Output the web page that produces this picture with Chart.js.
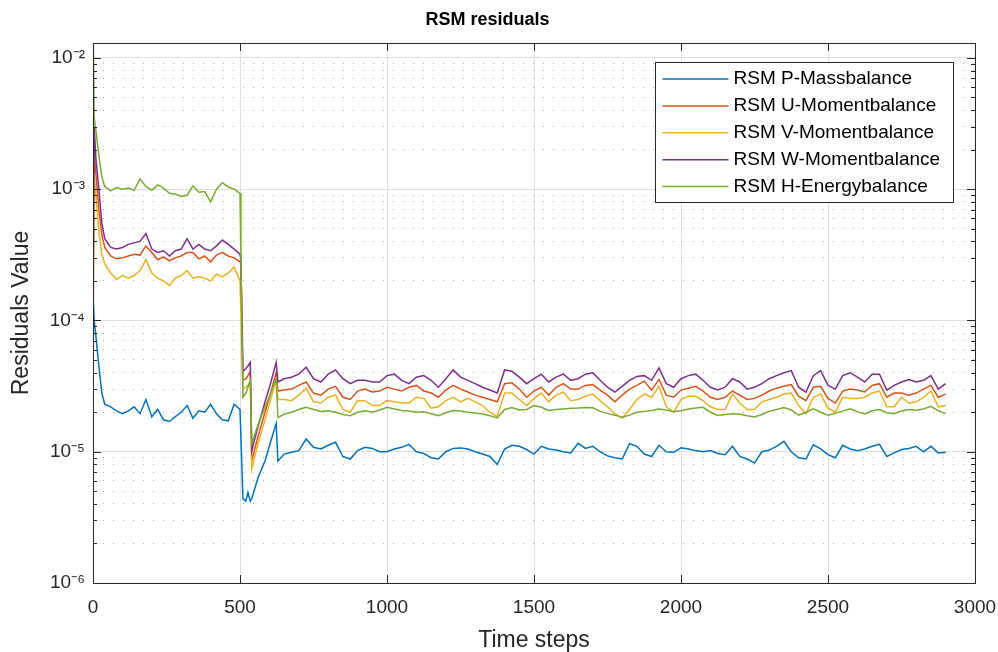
<!DOCTYPE html>
<html>
<head>
<meta charset="utf-8">
<title>RSM residuals</title>
<script src="https://cdn.jsdelivr.net/npm/chart.js@4.4.1/dist/chart.umd.min.js"></script>
<style>
  html, body { margin: 0; padding: 0; background: #fff; }
  #wrap { width: 998px; height: 652px; }
</style>
</head>
<body>
<div id="wrap"><canvas id="residualsChart"></canvas></div>
<script>
// Time steps where the residuals were sampled
const steps = [
  1, 4, 10, 20, 30,
  40, 60, 80, 100, 120, 140, 160, 180, 200, 220, 240, 260, 280, 300, 320, 340, 360, 380, 400, 420, 440, 460, 480, 500,
  503, 510, 520, 527, 535, 540, 561, 585, 602, 623, 629,
  650, 675, 700, 725, 750, 775, 800, 825, 850, 875,
  900, 925, 950, 975, 1000, 1025, 1050, 1075, 1100, 1125,
  1150, 1175, 1200, 1225, 1250, 1275, 1300, 1325, 1350, 1375,
  1400, 1425, 1450, 1475, 1500, 1525, 1550, 1575, 1600, 1625,
  1650, 1675, 1700, 1725, 1750, 1775, 1800, 1825, 1850, 1875,
  1900, 1925, 1950, 1975, 2000, 2025, 2050, 2075, 2100, 2125,
  2150, 2175, 2200, 2225, 2250, 2275, 2300, 2325, 2350, 2375,
  2400, 2425, 2450, 2475, 2500, 2525, 2550, 2575, 2600, 2625,
  2650, 2675, 2700, 2725, 2750, 2775, 2800, 2825, 2850, 2875,
  2900
];

// P-Massbalance
const pMass = [
  1.4e-4, 1.0e-4, 7.5e-5, 4.5e-5, 2.8e-5,
  2.3e-5, 2.2e-5, 2.05e-5, 1.95e-5, 2.05e-5, 2.2e-5, 1.95e-5, 2.5e-5, 1.85e-5, 2.1e-5, 1.75e-5, 1.7e-5,
  1.85e-5, 2.0e-5, 2.25e-5, 1.8e-5, 2.05e-5, 2.0e-5, 2.3e-5, 1.95e-5, 1.75e-5, 1.72e-5, 2.3e-5, 2.1e-5,
  2.1e-5, 4.4e-6, 4.2e-6, 4.9e-6, 4.2e-6, 4.4e-6, 6.3e-6, 8.5e-6, 1.15e-5, 1.64e-5, 8.5e-6,
  0.96e-5, 0.99e-5, 1.02e-5, 1.25e-5, 1.08e-5, 1.05e-5, 1.12e-5, 1.18e-5, 0.92e-5, 0.88e-5,
  1.02e-5, 1.08e-5, 1.06e-5, 1.0e-5, 1.0e-5, 1.05e-5, 1.08e-5, 1.14e-5, 1.0e-5, 0.97e-5,
  0.9e-5, 0.88e-5, 1.0e-5, 1.06e-5, 1.07e-5, 1.05e-5, 1.0e-5, 0.96e-5, 0.92e-5, 0.8e-5,
  1.05e-5, 1.12e-5, 1.1e-5, 1.04e-5, 0.96e-5, 1.1e-5, 1.05e-5, 1.03e-5, 1.0e-5, 0.98e-5,
  1.16e-5, 1.06e-5, 1.1e-5, 1.0e-5, 0.93e-5, 0.9e-5, 0.88e-5, 1.15e-5, 1.1e-5, 0.96e-5,
  0.92e-5, 1.12e-5, 1.0e-5, 0.99e-5, 1.07e-5, 1.05e-5, 1.02e-5, 1.0e-5, 1.02e-5, 0.97e-5,
  0.95e-5, 1.1e-5, 0.92e-5, 0.88e-5, 0.82e-5, 1.0e-5, 1.03e-5, 1.1e-5, 1.2e-5, 1.0e-5,
  0.9e-5, 0.88e-5, 1.13e-5, 1.05e-5, 0.95e-5, 0.9e-5, 1.12e-5, 1.05e-5, 1.02e-5, 1.05e-5,
  1.1e-5, 1.14e-5, 0.92e-5, 0.98e-5, 1.04e-5, 1.06e-5, 1.1e-5, 1.0e-5, 1.1e-5, 0.98e-5,
  0.99e-5
];

// U-Momentbalance
const uMoment = [
  1.3e-4, 1.9e-3, 1.3e-3, 7.0e-4, 4.5e-4,
  3.6e-4, 3.1e-4, 2.95e-4, 3.0e-4, 3.1e-4, 3.2e-4, 3.15e-4, 3.7e-4, 3.3e-4, 2.9e-4, 3.05e-4, 2.85e-4,
  3.0e-4, 3.1e-4, 3.3e-4, 3.3e-4, 2.95e-4, 3.1e-4, 2.8e-4, 3.15e-4, 3.3e-4, 3.1e-4, 3.0e-4, 2.8e-4,
  2.7e-4, 3.5e-5, 3.6e-5, 3.8e-5, 4.1e-5, 8.6e-6, 1.3e-5, 2.0e-5, 2.7e-5, 4.0e-5, 2.9e-5,
  2.95e-5, 3.0e-5, 3.2e-5, 3.4e-5, 2.8e-5, 2.7e-5, 3.0e-5, 3.15e-5, 2.6e-5, 2.5e-5,
  2.9e-5, 3.0e-5, 2.85e-5, 2.9e-5, 3.1e-5, 3.0e-5, 2.9e-5, 3.1e-5, 3.2e-5, 2.9e-5,
  2.8e-5, 2.6e-5, 2.95e-5, 3.2e-5, 3.0e-5, 2.85e-5, 2.7e-5, 2.6e-5, 2.5e-5, 2.4e-5,
  3.3e-5, 3.35e-5, 3.0e-5, 2.6e-5, 2.9e-5, 3.1e-5, 2.7e-5, 3.1e-5, 3.3e-5, 3.0e-5,
  3.0e-5, 3.2e-5, 3.25e-5, 2.95e-5, 2.7e-5, 2.4e-5, 2.7e-5, 3.0e-5, 3.2e-5, 3.45e-5,
  2.95e-5, 3.55e-5, 2.7e-5, 2.6e-5, 2.95e-5, 3.05e-5, 3.15e-5, 2.9e-5, 2.6e-5, 2.5e-5,
  2.6e-5, 2.9e-5, 2.7e-5, 2.5e-5, 2.55e-5, 2.7e-5, 2.9e-5, 3.05e-5, 3.15e-5, 3.25e-5,
  2.65e-5, 2.45e-5, 3.1e-5, 3.15e-5, 2.55e-5, 2.35e-5, 2.9e-5, 3.0e-5, 2.95e-5, 2.85e-5,
  3.2e-5, 3.3e-5, 2.6e-5, 2.8e-5, 2.8e-5, 2.7e-5, 2.8e-5, 3.0e-5, 3.2e-5, 2.6e-5,
  2.75e-5
];

// V-Momentbalance
const vMoment = [
  2.0e-4, 1.3e-3, 9.0e-4, 4.8e-4, 3.2e-4,
  2.7e-4, 2.3e-4, 2.05e-4, 2.2e-4, 2.1e-4, 2.2e-4, 2.4e-4, 2.9e-4, 2.3e-4, 2.1e-4, 2.0e-4, 1.85e-4,
  2.1e-4, 2.2e-4, 2.4e-4, 2.1e-4, 2.15e-4, 2.1e-4, 2.0e-4, 2.25e-4, 2.15e-4, 2.3e-4, 2.55e-4, 2.0e-4,
  2.0e-4, 3.0e-5, 3.1e-5, 3.2e-5, 3.4e-5, 7.4e-6, 1.15e-5, 1.75e-5, 2.4e-5, 3.5e-5, 2.5e-5,
  2.5e-5, 2.45e-5, 2.7e-5, 3.05e-5, 2.4e-5, 2.35e-5, 2.6e-5, 2.7e-5, 2.1e-5, 2.0e-5,
  2.45e-5, 2.45e-5, 2.25e-5, 2.25e-5, 2.45e-5, 2.4e-5, 2.35e-5, 2.35e-5, 2.6e-5, 2.55e-5,
  2.15e-5, 2.2e-5, 2.45e-5, 2.6e-5, 2.4e-5, 2.55e-5, 2.4e-5, 2.25e-5, 2.0e-5, 1.85e-5,
  2.8e-5, 2.8e-5, 2.5e-5, 2.25e-5, 2.55e-5, 2.8e-5, 2.4e-5, 2.7e-5, 2.85e-5, 2.45e-5,
  2.5e-5, 2.65e-5, 2.75e-5, 2.45e-5, 2.2e-5, 1.95e-5, 1.8e-5, 2.1e-5, 2.5e-5, 2.75e-5,
  2.6e-5, 3.15e-5, 2.2e-5, 2.0e-5, 2.5e-5, 2.65e-5, 2.65e-5, 2.45e-5, 2.2e-5, 2.1e-5,
  2.1e-5, 2.75e-5, 2.35e-5, 2.1e-5, 2.1e-5, 2.4e-5, 2.5e-5, 2.6e-5, 2.75e-5, 2.8e-5,
  2.25e-5, 1.95e-5, 2.6e-5, 2.75e-5, 2.15e-5, 2.0e-5, 2.6e-5, 2.55e-5, 2.55e-5, 2.6e-5,
  2.8e-5, 2.9e-5, 2.2e-5, 2.2e-5, 2.6e-5, 2.35e-5, 2.4e-5, 2.6e-5, 2.9e-5, 2.2e-5,
  2.25e-5
];

// W-Momentbalance
const wMoment = [
  3.0e-4, 3.0e-3, 1.7e-3, 1.0e-3, 5.5e-4,
  4.2e-4, 3.6e-4, 3.5e-4, 3.6e-4, 3.8e-4, 3.9e-4, 4.0e-4, 4.6e-4, 3.5e-4, 3.3e-4, 3.4e-4, 3.1e-4,
  3.4e-4, 3.5e-4, 4.2e-4, 3.5e-4, 3.8e-4, 3.5e-4, 3.4e-4, 3.7e-4, 4.1e-4, 3.8e-4, 3.5e-4, 3.2e-4,
  2.9e-4, 4.1e-5, 4.3e-5, 4.5e-5, 4.8e-5, 1.02e-5, 1.55e-5, 2.4e-5, 3.2e-5, 4.8e-5, 3.4e-5,
  3.6e-5, 3.7e-5, 3.9e-5, 4.4e-5, 3.6e-5, 3.4e-5, 3.9e-5, 4.2e-5, 3.6e-5, 3.3e-5,
  3.5e-5, 3.5e-5, 3.4e-5, 3.4e-5, 3.8e-5, 3.9e-5, 3.5e-5, 3.3e-5, 3.7e-5, 3.8e-5,
  3.5e-5, 3.1e-5, 3.6e-5, 4.2e-5, 3.7e-5, 3.5e-5, 3.3e-5, 3.1e-5, 2.95e-5, 2.8e-5,
  4.2e-5, 4.1e-5, 3.7e-5, 3.3e-5, 3.6e-5, 3.9e-5, 3.4e-5, 3.7e-5, 3.9e-5, 3.5e-5,
  3.6e-5, 3.9e-5, 4.0e-5, 3.5e-5, 3.1e-5, 2.85e-5, 3.15e-5, 3.5e-5, 3.75e-5, 3.8e-5,
  3.5e-5, 4.35e-5, 3.3e-5, 3.1e-5, 3.6e-5, 3.8e-5, 3.9e-5, 3.5e-5, 3.1e-5, 2.95e-5,
  3.1e-5, 3.6e-5, 3.4e-5, 3.0e-5, 3.1e-5, 3.3e-5, 3.6e-5, 3.8e-5, 4.0e-5, 4.15e-5,
  3.1e-5, 2.85e-5, 3.8e-5, 4.15e-5, 3.2e-5, 3.0e-5, 3.8e-5, 4.0e-5, 3.7e-5, 3.4e-5,
  3.9e-5, 3.9e-5, 2.95e-5, 3.2e-5, 3.4e-5, 3.55e-5, 3.4e-5, 3.5e-5, 3.8e-5, 3.0e-5,
  3.3e-5
];

// H-Energybalance
const hEnergy = [
  1.3e-2, 3.5e-3, 2.8e-3, 1.8e-3, 1.25e-3,
  1.05e-3, 0.97e-3, 1.03e-3, 1.0e-3, 1.02e-3, 0.98e-3, 1.2e-3, 1.05e-3, 0.98e-3, 1.08e-3, 1.02e-3, 0.93e-3,
  0.92e-3, 0.88e-3, 0.9e-3, 1.06e-3, 0.95e-3, 0.96e-3, 0.8e-3, 1.0e-3, 1.12e-3, 1.04e-3, 1.0e-3, 0.93e-3,
  3.0e-4, 2.6e-5, 2.8e-5, 3.1e-5, 3.5e-5, 1.15e-5, 1.6e-5, 2.2e-5, 2.7e-5, 3.6e-5, 1.82e-5,
  1.93e-5, 2.0e-5, 2.1e-5, 2.18e-5, 2.1e-5, 2.03e-5, 2.05e-5, 2.0e-5, 1.92e-5, 1.88e-5,
  2.0e-5, 2.05e-5, 2.0e-5, 2.08e-5, 2.18e-5, 2.12e-5, 2.06e-5, 2.04e-5, 2.0e-5, 2.02e-5,
  1.95e-5, 1.88e-5, 1.98e-5, 2.06e-5, 2.04e-5, 2.0e-5, 1.97e-5, 1.94e-5, 1.88e-5, 1.81e-5,
  2.1e-5, 2.17e-5, 2.08e-5, 2.1e-5, 2.25e-5, 2.18e-5, 2.06e-5, 2.1e-5, 2.12e-5, 2.14e-5,
  2.15e-5, 2.17e-5, 2.16e-5, 2.03e-5, 1.96e-5, 1.9e-5, 1.83e-5, 1.9e-5, 2.0e-5, 2.03e-5,
  2.06e-5, 2.12e-5, 2.08e-5, 2.02e-5, 2.05e-5, 2.12e-5, 2.15e-5, 2.18e-5, 2.0e-5, 1.89e-5,
  1.92e-5, 1.95e-5, 1.93e-5, 1.88e-5, 1.84e-5, 1.92e-5, 2.03e-5, 2.1e-5, 2.17e-5, 2.08e-5,
  1.9e-5, 2.0e-5, 2.12e-5, 2.0e-5, 1.9e-5, 1.96e-5, 2.04e-5, 2.12e-5, 2.02e-5, 1.94e-5,
  2.05e-5, 2.1e-5, 1.98e-5, 1.95e-5, 2.04e-5, 2.1e-5, 2.07e-5, 2.12e-5, 2.22e-5, 2.05e-5,
  1.95e-5
];

const seriesNames = ['RSM P-Massbalance', 'RSM U-Momentbalance', 'RSM V-Momentbalance', 'RSM W-Momentbalance', 'RSM H-Energybalance'];
const seriesColors = ['#0072BD', '#D95319', '#EDB120', '#7E2F8E', '#77AC30'];
const seriesValues = [pMass, uMoment, vMoment, wMoment, hEnergy];

const xTickValues = [0, 500, 1000, 1500, 2000, 2500, 3000];
const xTickLabels = ['0', '500', '1000', '1500', '2000', '2500', '3000'];
const yTickValues = [1e-6, 1e-5, 1e-4, 1e-3, 1e-2];
const yTickLabels = ['10⁻⁶', '10⁻⁵', '10⁻⁴', '10⁻³', '10⁻²'];

const FONT = "'Liberation Sans', Arial, Helvetica, sans-serif";
const AXIS_COLOR = '#262626';

// 1..9 per decade, the decade ones are the major ticks
function logGridTicks() {
    const ticks = [];
    for (let k = -6; k <= -3; k++) {
        for (let m = 1; m <= 9; m++) {
            ticks.push({ value: Number(m + 'e' + k), major: m === 1 });
        }
    }
    ticks.push({ value: 1e-2, major: true });
    return ticks;
}

function yLabel(value) {
    const i = yTickValues.findIndex(v => Math.abs(v - value) < v * 1e-6);
    return i >= 0 ? yTickLabels[i] : '';
}

// box round the axes with the inward tick marks
const axesBox = {
    id: 'axesBox',
    afterDatasetsDraw(chart) {
        const { ctx, chartArea: a, scales } = chart;
        ctx.save();
        ctx.strokeStyle = AXIS_COLOR;
        ctx.lineWidth = 1;
        ctx.beginPath();
        scales.y.ticks.forEach(t => {
            const py = Math.round(scales.y.getPixelForValue(t.value)) + 0.5;
            const len = t.major ? 8 : 4;
            ctx.moveTo(a.left, py); ctx.lineTo(a.left + len, py);
            ctx.moveTo(a.right, py); ctx.lineTo(a.right - len, py);
        });
        scales.x.ticks.forEach(t => {
            const px = Math.round(scales.x.getPixelForValue(t.value)) + 0.5;
            ctx.moveTo(px, a.bottom); ctx.lineTo(px, a.bottom - 8);
            ctx.moveTo(px, a.top); ctx.lineTo(px, a.top + 8);
        });
        ctx.stroke();
        ctx.strokeRect(Math.round(a.left) + 0.5, Math.round(a.top) + 0.5,
            Math.round(a.right - a.left), Math.round(a.bottom - a.top));
        ctx.restore();
    }
};

// legend box in the upper right corner
const legendBox = {
    id: 'legendBox',
    afterDraw(chart) {
        const { ctx, chartArea: a } = chart;
        const w = 298, h = 140;
        const x0 = Math.round(a.right - 22 - w) + 0.5;
        const y0 = Math.round(a.top + 19) + 0.5;
        ctx.save();
        ctx.fillStyle = '#fff';
        ctx.fillRect(x0, y0, w, h);
        ctx.strokeStyle = AXIS_COLOR;
        ctx.lineWidth = 1;
        ctx.strokeRect(x0, y0, w, h);
        ctx.font = '19px ' + FONT;
        ctx.textBaseline = 'middle';
        ctx.textAlign = 'left';
        chart.data.datasets.forEach((ds, i) => {
            const y = y0 + 16.5 + i * 26.9;
            ctx.strokeStyle = ds.borderColor;
            ctx.lineWidth = 1.5;
            ctx.beginPath();
            ctx.moveTo(x0 + 7, y);
            ctx.lineTo(x0 + 73, y);
            ctx.stroke();
            ctx.fillStyle = '#000';
            ctx.fillText(ds.label, x0 + 78, y);
        });
        ctx.restore();
    }
};

const ctx = document.getElementById('residualsChart').getContext('2d');
new Chart(ctx, {
    type: 'line',
    data: {
        datasets: seriesValues.map((vals, i) => ({
            label: seriesNames[i],
            data: steps.map((s, j) => ({ x: s, y: vals[j] })),
            borderColor: seriesColors[i],
            backgroundColor: seriesColors[i],
            borderWidth: 1.5,
            pointRadius: 0,
            tension: 0,
            fill: false,
            order: seriesValues.length - 1 - i // last series on top
        }))
    },
    options: {
        responsive: true,
        maintainAspectRatio: false,
        animation: false,
        layout: { padding: { left: 0, right: 23, top: 0, bottom: 0 } },
        plugins: {
            legend: { display: false },
            tooltip: { enabled: false },
            title: {
                display: true,
                text: 'RSM residuals',
                color: '#000',
                font: { family: FONT, size: 18, weight: 'bold', lineHeight: 1.2 },
                padding: { top: 9, bottom: 12.4 }
            }
        },
        scales: {
            x: {
                type: 'linear',
                min: 0,
                max: 3000,
                afterFit: (scale) => {
                    scale.height = 69;
                    scale.paddingLeft = 0;
                    scale.paddingRight = 0;
                },
                ticks: {
                    stepSize: 500,
                    autoSkip: false,
                    maxRotation: 0,
                    padding: 13,
                    color: AXIS_COLOR,
                    font: { family: FONT, size: 19 },
                    callback: (value) => {
                        const i = xTickValues.indexOf(value);
                        return i >= 0 ? xTickLabels[i] : '';
                    }
                },
                grid: { color: '#dfdfdf', lineWidth: 1, drawTicks: false },
                border: { display: false },
                title: {
                    display: true,
                    text: 'Time steps',
                    color: AXIS_COLOR,
                    font: { family: FONT, size: 23, lineHeight: 1 },
                    padding: { top: 0, bottom: 0 }
                }
            },
            y: {
                type: 'logarithmic',
                min: 1e-6,
                max: 0.013,
                afterFit: (scale) => {
                    scale.width = 93;
                    scale.paddingTop = 0;
                    scale.paddingBottom = 0;
                },
                afterBuildTicks: (scale) => { scale.ticks = logGridTicks(); },
                ticks: {
                    autoSkip: false,
                    padding: 8,
                    color: AXIS_COLOR,
                    font: { family: FONT, size: 19 },
                    callback: yLabel
                },
                grid: {
                    color: (c) => (c.tick && c.tick.major) ? '#dfdfdf' : '#b4b4b4',
                    lineWidth: 1,
                    drawTicks: false
                },
                border: {
                    display: false,
                    dash: (c) => (c.tick && c.tick.major) ? [] : [1, 9]
                },
                title: {
                    display: true,
                    text: 'Residuals Value',
                    color: AXIS_COLOR,
                    font: { family: FONT, size: 23, lineHeight: 1 },
                    padding: { top: 10, bottom: 0 }
                }
            }
        }
    },
    plugins: [axesBox, legendBox]
});
</script>
</body>
</html>
